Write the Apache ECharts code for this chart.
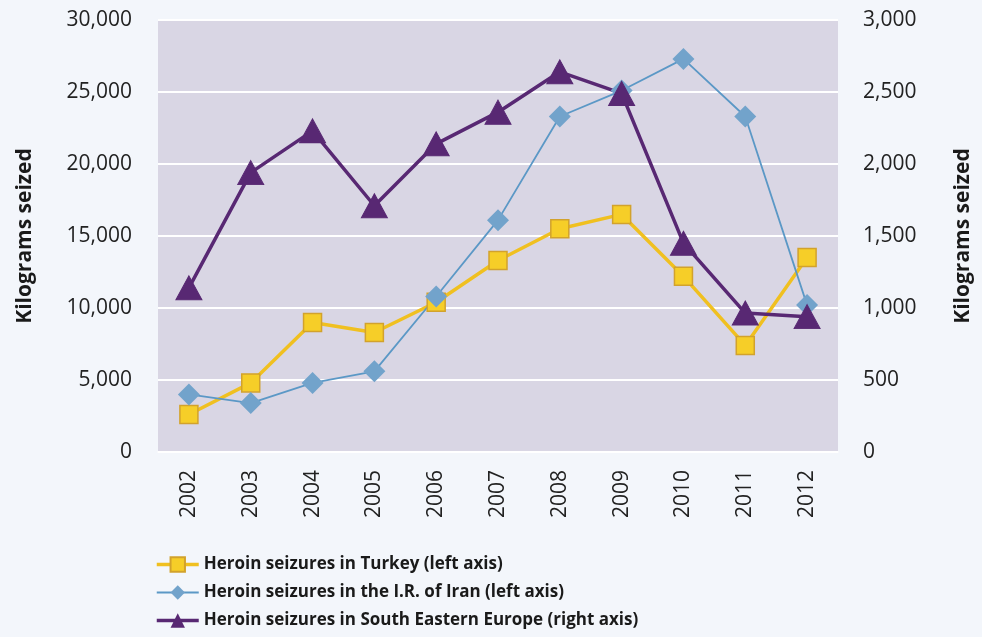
<!DOCTYPE html>
<html><head><meta charset="utf-8">
<script src="https://cdn.jsdelivr.net/npm/echarts@6/dist/echarts.min.js"></script>
<style>html,body{margin:0;padding:0;background:#f3f6fb;}#c{width:982px;height:637px;}</style>
</head><body><div id="c"></div>
<script>
const years = ['2002','2003','2004','2005','2006','2007','2008','2009','2010','2011','2012'];
const turkey = [2600, 4800, 9000, 8300, 10400, 13300, 15500, 16500, 12200, 7400, 13500];
const iran = [4000, 3400, 4800, 5600, 10800, 16100, 23300, 25100, 27300, 23300, 10200];
const see = [1140, 1940, 2230, 1710, 2140, 2360, 2640, 2490, 1450, 965, 940];
const leftTicks = {min: 0, max: 30000, interval: 5000};
const rightTicks = {min: 0, max: 3000, interval: 500};
const names = ['Heroin seizures in Turkey (left axis)', 'Heroin seizures in the I.R. of Iran (left axis)', 'Heroin seizures in South Eastern Europe (right axis)'];

const font = '"Open Sans", "Noto Sans", sans-serif';
const chart = echarts.init(document.getElementById('c'));
chart.setOption({
  backgroundColor: '#f3f6fb',
  animation: false,
  textStyle: {fontFamily: font},
  grid: {left: 158, right: 137, top: 20, bottom: 185, show: true, backgroundColor: '#d9d6e4', borderWidth: 0},
  legend: {
    orient: 'vertical', left: 150, top: 551, itemGap: 11, itemWidth: 42, itemHeight: 18,
    padding: [5, 5, 0, 5],
    textStyle: {fontFamily: font, fontSize: 17, fontWeight: 'bold', color: '#1a1a1a'},
    data: [
      {name: names[0], lineStyle: {width: 3.5}},
      {name: names[1], lineStyle: {width: 2}},
      {name: names[2], lineStyle: {width: 3.5}}
    ]
  },
  xAxis: {
    type: 'category', data: years, boundaryGap: true,
    axisLine: {show: true, lineStyle: {color: '#ffffff', width: 1.5}},
    axisTick: {show: false},
    axisLabel: {rotate: 90, fontSize: 21, color: '#222', margin: 18, fontFamily: font}
  },
  yAxis: [{
    type: 'value', min: leftTicks.min, max: leftTicks.max, interval: leftTicks.interval,
    name: 'Kilograms seized', nameLocation: 'middle', nameGap: 122, nameRotate: 90,
    nameTextStyle: {fontSize: 21, fontWeight: 'bold', color: '#1a1a1a', fontFamily: font},
    axisLabel: {fontSize: 21, color: '#222', margin: 26, fontFamily: font,
      formatter: v => v.toLocaleString('en-US')},
    splitLine: {lineStyle: {color: '#ffffff', width: 2}},
    axisLine: {show: false}, axisTick: {show: false}
  }, {
    type: 'value', min: rightTicks.min, max: rightTicks.max, interval: rightTicks.interval,
    name: 'Kilograms seized', nameLocation: 'middle', nameGap: 115, nameRotate: 90,
    nameTextStyle: {fontSize: 21, fontWeight: 'bold', color: '#1a1a1a', fontFamily: font},
    axisLabel: {fontSize: 21, color: '#222', margin: 25, fontFamily: font,
      formatter: v => v.toLocaleString('en-US')},
    splitLine: {show: false},
    axisLine: {show: false}, axisTick: {show: false}
  }],
  series: [{
    name: names[0], type: 'line', yAxisIndex: 0, data: turkey,
    symbol: 'rect', symbolSize: 18,
    lineStyle: {color: '#f0c020', width: 3.5},
    itemStyle: {color: '#f6ce28', borderColor: '#d2a22c', borderWidth: 1.5}
  }, {
    name: names[1], type: 'line', yAxisIndex: 0, data: iran,
    symbol: 'diamond', symbolSize: 22,
    lineStyle: {color: '#5b98c6', width: 1.8},
    itemStyle: {color: '#72a3cb', borderColor: '#72a3cb', borderWidth: 0}
  }, {
    name: names[2], type: 'line', yAxisIndex: 1, data: see,
    symbol: 'triangle', symbolSize: [26, 24],
    lineStyle: {color: '#582873', width: 3.5},
    itemStyle: {color: '#582873', borderColor: '#582873'}
  }]
});
</script></body></html>
